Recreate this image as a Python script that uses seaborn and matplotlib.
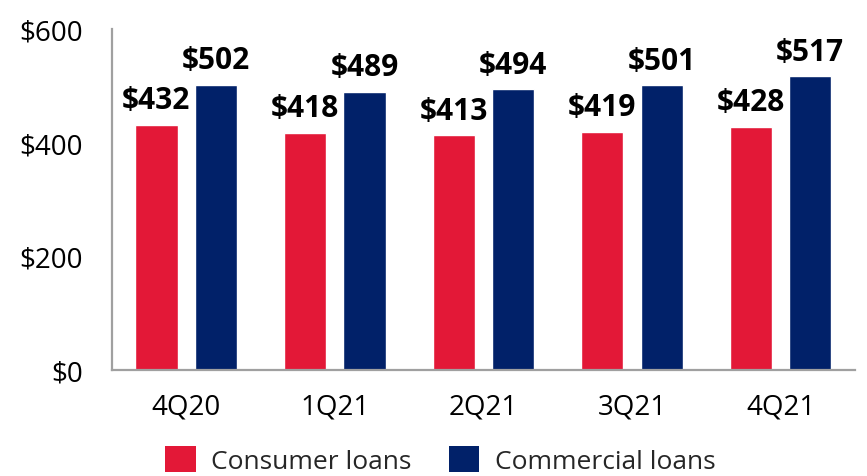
import numpy as np
import pandas as pd
import seaborn as sns
import matplotlib.pyplot as plt
from matplotlib.patches import Patch

quarters = ["4Q20", "1Q21", "2Q21", "3Q21", "4Q21"]
consumer = [432, 418, 413, 419, 428]
commercial = [502, 489, 494, 501, 517]
seriesNames = ["Consumer loans", "Commercial loans"]
yTicks = [0, 200, 400, 600]

colors = ["#E31837", "#012169"]

df = pd.DataFrame({
    "quarter": quarters * 2,
    "value": consumer + commercial,
    "series": [seriesNames[0]] * len(quarters) + [seriesNames[1]] * len(quarters),
})

sns.set_theme(style="white")
plt.rcParams['font.family'] = ['Open Sans', 'DejaVu Sans']

fig, ax = plt.subplots(figsize=(8.67, 4.77), dpi=100)
fig.subplots_adjust(left=0.129, right=0.986, top=0.937, bottom=0.222)

sns.barplot(
    data=df, x="quarter", y="value", hue="series",
    palette=colors, width=0.8, gap=0.29, saturation=1,
    legend=False, ax=ax,
)

# value labels above each bar
for container in ax.containers:
    for bar in container:
        h = bar.get_height()
        ax.annotate(f"${h:.0f}", (bar.get_x() + bar.get_width() / 2, h),
                    xytext=(0, 12), textcoords="offset points",
                    ha="center", va="baseline", fontsize=21.5, fontweight="bold",
                    color="black")

ax.set_ylim(0, 600)
ax.set_xlim(-0.5, len(quarters) - 0.5)
ax.set_yticks(yTicks)
ax.set_yticklabels([f"${v}" for v in yTicks])
ax.tick_params(axis="both", length=0, labelsize=20, colors="black")
ax.tick_params(axis="y", pad=21)
ax.tick_params(axis="x", pad=16)
ax.set_xlabel("")
ax.set_ylabel("")

for side in ["top", "right"]:
    ax.spines[side].set_visible(False)
for side in ["left", "bottom"]:
    ax.spines[side].set_color("#a0a0a0")
    ax.spines[side].set_linewidth(1.6)

handles = [Patch(facecolor=c, edgecolor="none", label=n) for c, n in zip(colors, seriesNames)]
fig.legend(handles=handles, loc="center", bbox_to_anchor=(0.508, 0.033),
           ncol=2, frameon=False, fontsize=19,
           handlelength=1.15, handleheight=1.15, handletextpad=0.6,
           columnspacing=1.4)

plt.savefig("out.png", dpi=100)
